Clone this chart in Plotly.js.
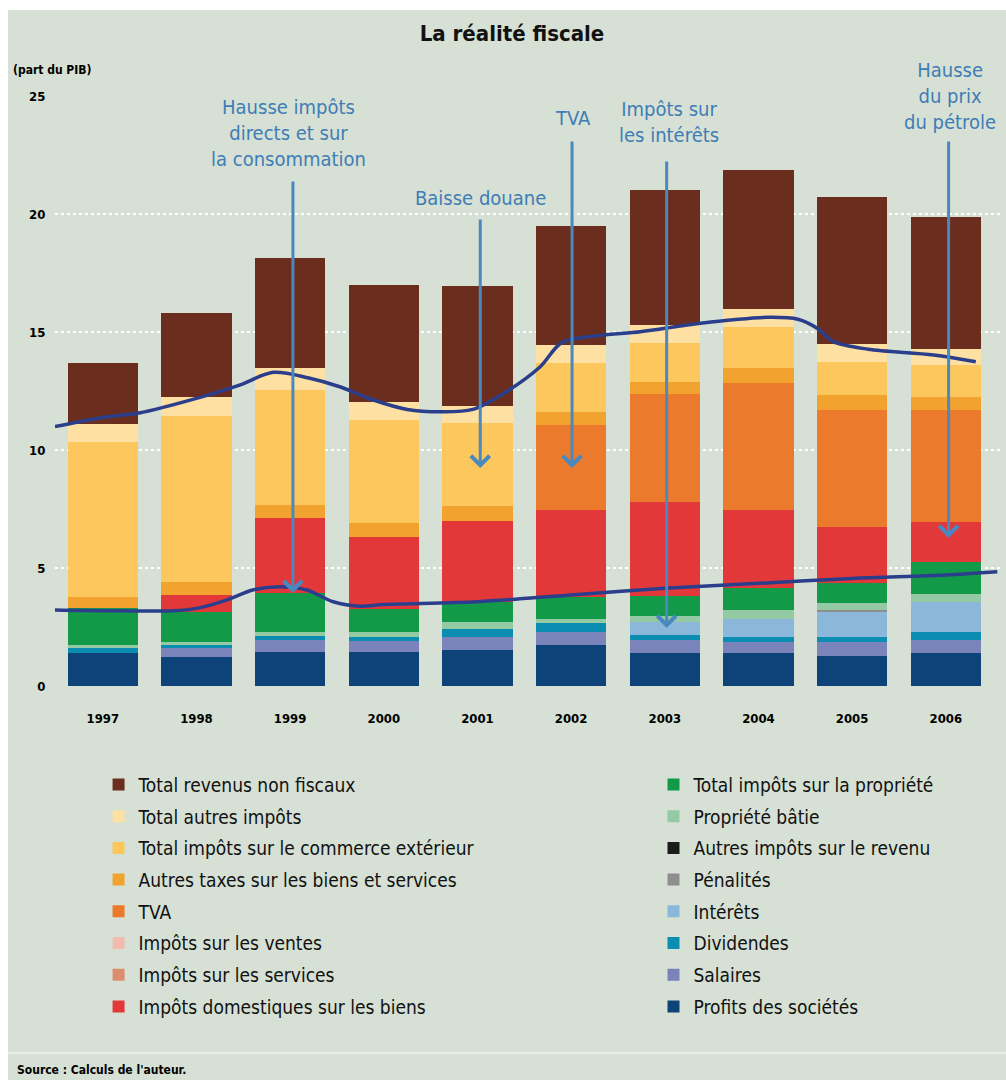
<!DOCTYPE html>
<html>
<head>
<meta charset="utf-8">
<script src="https://cdn.plot.ly/plotly-3.0.1.min.js"></script>
<style>
  html, body { margin: 0; padding: 0; background: #ffffff; }
  #chart { width: 1006px; height: 1080px; }
</style>
</head>
<body>
<div id="chart"></div>
<script>
// ---------- DATA (part du PIB, %) ----------
const years = [1997, 1998, 1999, 2000, 2001, 2002, 2003, 2004, 2005, 2006];
const yearLabels = ['1997', '1998', '1999', '2000', '2001', '2002', '2003', '2004', '2005', '2006'];

const profitsSocietes     = [1.40, 1.24, 1.45, 1.43, 1.53, 1.74, 1.38, 1.38, 1.28, 1.38];
const salaires            = [0.00, 0.37, 0.49, 0.49, 0.56, 0.56, 0.57, 0.50, 0.57, 0.57];
const dividendes          = [0.20, 0.13, 0.18, 0.17, 0.31, 0.35, 0.21, 0.21, 0.24, 0.35];
const interets            = [0.00, 0.00, 0.00, 0.00, 0.00, 0.00, 0.56, 0.77, 1.06, 1.27];
const penalites           = [0.00, 0.00, 0.00, 0.00, 0.00, 0.00, 0.00, 0.00, 0.05, 0.00];
const autresImpotsRevenu  = [0.00, 0.00, 0.00, 0.00, 0.00, 0.00, 0.00, 0.00, 0.00, 0.00];
const proprieteBatie      = [0.14, 0.14, 0.18, 0.18, 0.32, 0.21, 0.26, 0.36, 0.30, 0.31];
const totalPropriete      = [1.56, 1.27, 1.63, 1.00, 0.83, 0.92, 0.84, 0.92, 0.85, 1.39];
const domestiquesBiens    = [0.00, 0.71, 3.17, 3.03, 3.46, 3.68, 3.99, 3.32, 2.40, 1.69];
const impotsServices      = [0.00, 0.00, 0.00, 0.00, 0.00, 0.00, 0.00, 0.00, 0.00, 0.00];
const impotsVentes        = [0.00, 0.00, 0.00, 0.00, 0.00, 0.00, 0.00, 0.00, 0.00, 0.00];
const tva                 = [0.00, 0.00, 0.00, 0.00, 0.00, 3.60, 4.56, 5.39, 4.94, 4.73];
const autresTaxesBiens    = [0.48, 0.56, 0.57, 0.62, 0.62, 0.56, 0.52, 0.61, 0.64, 0.57];
const commerceExterieur   = [6.57, 7.02, 4.87, 4.35, 3.51, 2.05, 1.63, 1.77, 1.41, 1.34];
const totalAutresImpots   = [0.74, 0.82, 0.92, 0.78, 0.74, 0.78, 0.78, 0.73, 0.74, 0.67];
const revenusNonFiscaux   = [2.58, 3.54, 4.68, 4.94, 5.09, 5.05, 5.72, 5.90, 6.23, 5.59];

// Trend curves (drawn by hand on the original)
const upperLineX = [1996.49, 1997.0, 1997.4, 1998.0, 1998.46, 1998.82, 1999.2, 1999.53, 1999.89, 2000.25, 2000.6, 2000.95, 2001.3, 2001.67, 2001.9, 2002.3, 2002.74, 2003.38, 2004.1, 2004.42, 2004.63, 2004.8, 2005.17, 2005.87, 2006.32];
const upperLineY = [10.99, 11.38, 11.58, 12.19, 12.75, 13.29, 13.05, 12.68, 12.12, 11.72, 11.62, 11.72, 12.45, 13.53, 14.55, 14.85, 15.01, 15.37, 15.62, 15.54, 15.15, 14.59, 14.27, 14.03, 13.74];
const lowerLineX = [1996.45, 1997.0, 1997.75, 1998.0, 1998.32, 1998.6, 1998.89, 1999.18, 1999.46, 1999.75, 2000.0, 2001.0, 2002.0, 2003.0, 2004.0, 2005.0, 2006.0, 2006.55];
const lowerLineY = [3.22, 3.19, 3.19, 3.29, 3.64, 4.07, 4.21, 4.07, 3.57, 3.38, 3.45, 3.57, 3.86, 4.14, 4.35, 4.56, 4.70, 4.84];

const yTicks = [0, 5, 10, 15, 20, 25];

// ---------- SERIES (bottom to top of stack) ----------
const series = [
  { name: 'Profits des sociétés',                    y: profitsSocietes,    color: '#0e4379', legend: 'legend2' },
  { name: 'Salaires',                                y: salaires,           color: '#7a84bb', legend: 'legend2' },
  { name: 'Dividendes',                              y: dividendes,         color: '#0a8db0', legend: 'legend2' },
  { name: 'Intérêts',                                y: interets,           color: '#8bb8da', legend: 'legend2' },
  { name: 'Pénalités',                               y: penalites,          color: '#8e8e8e', legend: 'legend2' },
  { name: 'Autres impôts sur le revenu',             y: autresImpotsRevenu, color: '#1b1b1b', legend: 'legend2' },
  { name: 'Propriété bâtie',                         y: proprieteBatie,     color: '#93c9a3', legend: 'legend2' },
  { name: 'Total impôts sur la propriété',           y: totalPropriete,     color: '#139a48', legend: 'legend2' },
  { name: 'Impôts domestiques sur les biens',        y: domestiquesBiens,   color: '#e3383a', legend: 'legend' },
  { name: 'Impôts sur les services',                 y: impotsServices,     color: '#de8c70', legend: 'legend' },
  { name: 'Impôts sur les ventes',                   y: impotsVentes,       color: '#f1bcae', legend: 'legend' },
  { name: 'TVA',                                     y: tva,                color: '#eb7a2c', legend: 'legend' },
  { name: 'Autres taxes sur les biens et services',  y: autresTaxesBiens,   color: '#f2a22e', legend: 'legend' },
  { name: 'Total impôts sur le commerce extérieur',  y: commerceExterieur,  color: '#fcc85e', legend: 'legend' },
  { name: 'Total autres impôts',                     y: totalAutresImpots,  color: '#fde0a2', legend: 'legend' },
  { name: 'Total revenus non fiscaux',               y: revenusNonFiscaux,  color: '#6b2d1d', legend: 'legend' }
];

const FONT = 'Liberation Sans Narrow, DejaVu Sans Condensed, Arial Narrow, sans-serif';
const BG = '#d6e0d4';
const ANN_BLUE = '#3f7db6';
const ARROW_BLUE = '#4a89bf';
const LINE_NAVY = '#2b3e8c';

const traces = series.map((s, i) => ({
  type: 'bar',
  x: years,
  y: s.y,
  name: s.name,
  legend: s.legend,
  legendgroup: 'g' + i,
  legendrank: 100 - i,
  marker: { color: s.color, line: { width: 0 } },
  hoverinfo: 'name+y'
}));

traces.push({
  type: 'scatter', mode: 'lines', x: upperLineX, y: upperLineY,
  line: { color: LINE_NAVY, width: 3.5, shape: 'spline', smoothing: 0.9 },
  showlegend: false, hoverinfo: 'skip'
});
traces.push({
  type: 'scatter', mode: 'lines', x: lowerLineX, y: lowerLineY,
  line: { color: LINE_NAVY, width: 3.5, shape: 'spline', smoothing: 0.9 },
  showlegend: false, hoverinfo: 'skip'
});

const annFont = { family: FONT, size: 20, color: ANN_BLUE };

function arrow(x, yTip, yTail) {
  return {
    x: x, y: yTip, xref: 'x', yref: 'y',
    ax: x, ay: yTail, axref: 'x', ayref: 'y',
    text: '', showarrow: true, arrowhead: 4, arrowsize: 1.2,
    arrowwidth: 3, arrowcolor: ARROW_BLUE, standoff: 0
  };
}
function label(x, y, text) {
  return {
    x: x, y: y, xref: 'x', yref: 'y', text: text, showarrow: false,
    font: annFont, align: 'center', xanchor: 'center', yanchor: 'middle'
  };
}

const annotations = [
  label(1998.98, 23.43, 'Hausse impôts<br>directs et sur<br>la consommation'),
  label(2001.03, 20.68, 'Baisse douane'),
  label(2002.02, 24.07, 'TVA'),
  label(2003.05, 23.9, 'Impôts sur<br>les intérêts'),
  label(2006.05, 25.0, 'Hausse<br>du prix<br>du pétrole'),
  arrow(1999.03, 3.94, 21.44),
  arrow(2001.03, 9.24, 19.83),
  arrow(2002.01, 9.24, 23.14),
  arrow(2003.02, 2.46, 22.29),
  arrow(2006.03, 6.27, 23.14),
  {
    x: -0.003, y: 1.044, xref: 'paper', yref: 'paper', text: '(part du PIB)',
    showarrow: false, xanchor: 'center', yanchor: 'middle',
    font: { family: FONT, size: 12, color: '#000', weight: 'bold' }
  },
  {
    x: -0.042, y: -0.651, xref: 'paper', yref: 'paper', text: "Source : Calculs de l'auteur.",
    showarrow: false, xanchor: 'left', yanchor: 'middle',
    font: { family: FONT, size: 12, color: '#000', weight: 'bold' }
  }
];

const legendCommon = {
  orientation: 'v',
  traceorder: 'grouped',
  tracegroupgap: 4,
  bgcolor: 'rgba(0,0,0,0)',
  font: { family: FONT, size: 19, color: '#111' },
  yanchor: 'top',
  xanchor: 'left',
  itemclick: false,
  itemdoubleclick: false
};

const layout = {
  width: 1006,
  height: 1080,
  margin: { l: 55, r: 4, t: 96, b: 394 },
  paper_bgcolor: BG,
  plot_bgcolor: BG,
  barmode: 'stack',
  bargap: 0.25,
  title: {
    text: '<b>La réalité fiscale</b>',
    x: 512 / 1006, xanchor: 'center', xref: 'container',
    y: 1 - 33 / 1080, yanchor: 'middle', yref: 'container',
    font: { family: FONT, size: 22, color: '#111' }
  },
  xaxis: {
    type: 'linear',
    range: [1996.49, 2006.6],
    tickvals: years,
    ticktext: yearLabels,
    ticks: 'outside', ticklen: 20, tickcolor: 'rgba(0,0,0,0)',
    tickfont: { family: FONT, size: 13, color: '#000', weight: 'bold' },
    showgrid: false, zeroline: false, showline: false, fixedrange: true
  },
  yaxis: {
    range: [0, 25],
    tickvals: yTicks,
    ticks: 'outside', ticklen: 6, tickcolor: 'rgba(0,0,0,0)',
    tickfont: { family: FONT, size: 13, color: '#000', weight: 'bold' },
    showgrid: true, gridcolor: '#ffffff', gridwidth: 1.5, griddash: 'dot',
    zeroline: false, showline: false, fixedrange: true
  },
  legend: Object.assign({}, legendCommon, { x: 0.046, y: -0.135 }),
  legend2: Object.assign({}, legendCommon, { x: 0.632, y: -0.135 }),
  annotations: annotations,
  shapes: [
    { type: 'rect', xref: 'paper', yref: 'paper', x0: -0.06, x1: 1.01, y0: 676 / 590, y1: 1.17,
      fillcolor: '#ffffff', line: { width: 0 }, layer: 'above' },
    { type: 'rect', xref: 'paper', yref: 'paper', x0: -0.06, x1: -0.0496, y0: -0.7, y1: 1.17,
      fillcolor: '#ffffff', line: { width: 0 }, layer: 'above' },
    { type: 'line', xref: 'paper', yref: 'paper', x0: -0.05, x1: 1.01, y0: (686 - 1053) / 590, y1: (686 - 1053) / 590,
      line: { color: '#eef2ec', width: 1.5 } }
  ],
  showlegend: true
};

Plotly.newPlot('chart', traces, layout, { displayModeBar: false, staticPlot: true });
</script>
</body>
</html>
